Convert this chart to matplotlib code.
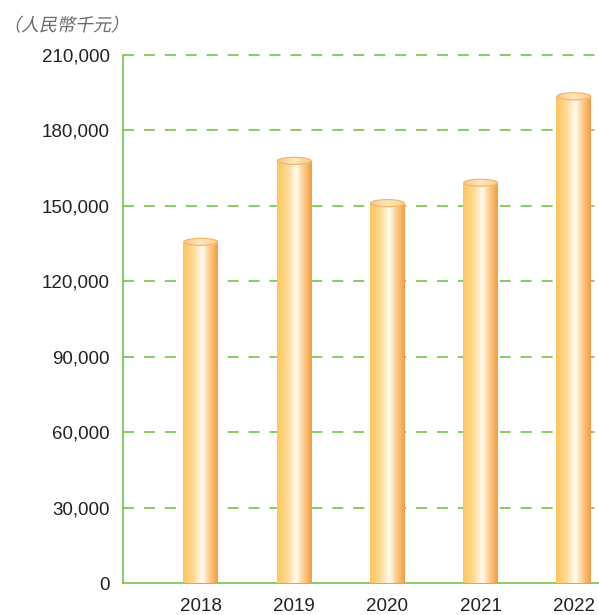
import matplotlib
matplotlib.use("Agg")
import matplotlib.pyplot as plt
import numpy as np
from matplotlib.colors import LinearSegmentedColormap
from matplotlib.patches import Rectangle, Ellipse, PathPatch
from matplotlib.textpath import TextPath
from matplotlib.font_manager import FontProperties
from matplotlib.transforms import Affine2D, IdentityTransform
from matplotlib.ticker import FuncFormatter

years = ["2018", "2019", "2020", "2021", "2022"]
values = [135500, 167700, 150900, 159000, 193400]
yticks = [0, 30000, 60000, 90000, 120000, 150000, 180000, 210000]
unit_label = "（人民幣千元）"

plt.rcParams['font.family'] = ['Liberation Sans', 'Noto Sans CJK TC']

green = "#6abd3c"
body_cmap = LinearSegmentedColormap.from_list("body", [
    (0.0, (253/255, 196/255, 92/255)),
    (0.3, (255/255, 218/255, 148/255)),
    (0.56, (255/255, 252/255, 242/255)),
    (0.75, (252/255, 206/255, 140/255)),
    (1.0, (243/255, 156/255, 68/255)),
])
top_cmap = LinearSegmentedColormap.from_list("top", [
    (0.0, (247/255, 196/255, 130/255)),
    (0.5, (255/255, 232/255, 190/255)),
    (1.0, (250/255, 205/255, 135/255)),
])

fig = plt.figure(figsize=(5.99, 6.15), dpi=100)
ax = fig.add_axes([123/599, 32/615, 1 - 123/599, 528/615])

x = np.arange(len(years))
bar_w = 0.375
ell_h = 8 * 210000 / 528

grad = np.linspace(0, 1, 256).reshape(1, -1)
for xi, v in zip(x, values):
    rect = Rectangle((xi - bar_w/2, 0), bar_w, v, facecolor="none", edgecolor="none")
    ax.add_patch(rect)
    im = ax.imshow(grad, cmap=body_cmap, aspect="auto", interpolation="bicubic",
                   extent=[xi - bar_w/2, xi + bar_w/2, 0, v], zorder=3)
    im.set_clip_path(rect)
    ell = Ellipse((xi, v), bar_w, ell_h, facecolor="none", edgecolor="none")
    ax.add_patch(ell)
    im2 = ax.imshow(grad, cmap=top_cmap, aspect="auto", interpolation="bicubic",
                    extent=[xi - bar_w/2, xi + bar_w/2, v - ell_h/2, v + ell_h/2], zorder=4)
    im2.set_clip_path(ell)
    # darker back rim of the top face
    rim = Ellipse((xi, v + ell_h*0.06), bar_w*0.97, ell_h*0.88, facecolor="none",
                  edgecolor=(0.95, 0.70, 0.42), linewidth=0.8, zorder=5)
    ax.add_patch(rim)

ax.set_xlim(-0.835, 4.27)
ax.set_ylim(0, 210000)
ax.set_xticks(x)
ax.set_xticklabels(years)
ax.set_yticks(yticks)
ax.yaxis.set_major_formatter(FuncFormatter(lambda v, p: f"{int(v):,}"))

for yt in yticks[1:]:
    ax.axhline(yt, color=green, linewidth=1.1, dashes=(7.2, 6.5), zorder=2, clip_on=False)

for side in ["top", "right"]:
    ax.spines[side].set_visible(False)
for side in ["left", "bottom"]:
    ax.spines[side].set_color(green)
    ax.spines[side].set_linewidth(1.1)
ax.tick_params(axis="both", length=0, labelsize=13.5, colors="#222222")
ax.tick_params(axis="y", pad=9.5)
ax.tick_params(axis="x", pad=11)

# italic-looking unit label (CJK fonts have no italic, so skew the glyph path)
fp = FontProperties(family="Noto Sans CJK TC", weight="light")
tp = TextPath((0, 0), unit_label, size=18, prop=fp)
tr = Affine2D().skew_deg(12, 0).translate(3, 615 - 31) + IdentityTransform()
fig.add_artist(PathPatch(tp, facecolor="#6a6a6a", edgecolor="none", transform=tr))

fig.savefig("out.png", dpi=100)
